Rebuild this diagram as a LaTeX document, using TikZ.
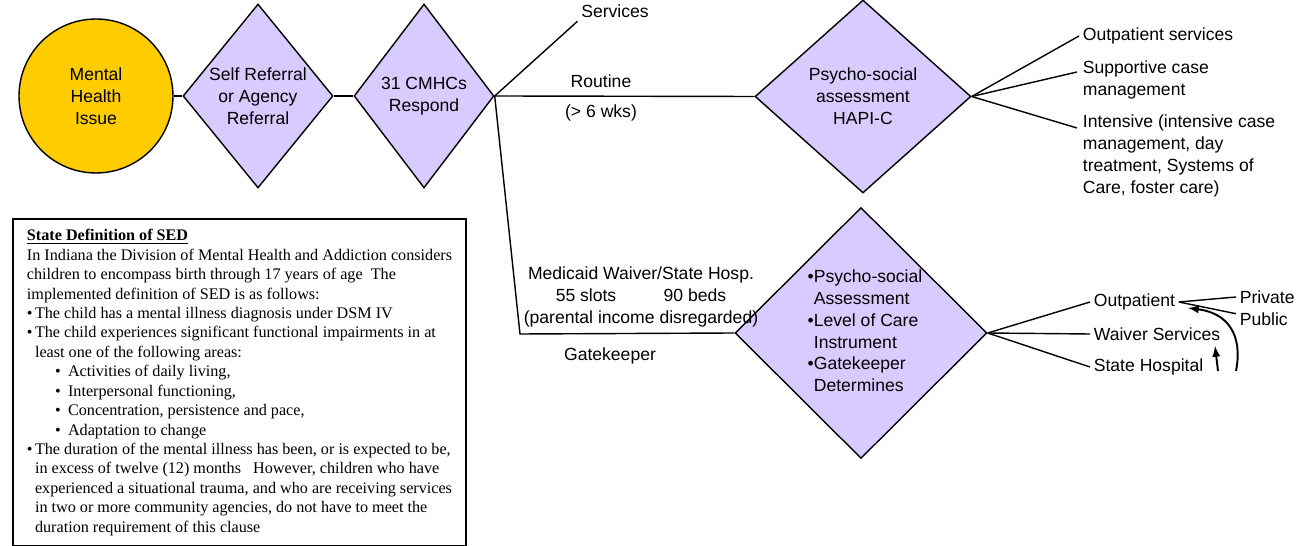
\documentclass[tikz,border=0pt]{standalone}
\usepackage{fontspec}
\setmainfont{Liberation Sans}
\newfontfamily\boxfont{Liberation Serif}
\usetikzlibrary{shapes.geometric}
\definecolor{issuegold}{RGB}{255,204,0}
\definecolor{lilac}{RGB}{215,203,255}
\newcommand{\sansten}{\fontsize{10}{12.4}\selectfont}
\newcommand{\boxten}{\boxfont\fontsize{9.2}{11.05}\selectfont}
\tikzset{
  issue/.style={circle, draw, fill=issuegold, line width=0.8pt, minimum size=3.08cm, inner sep=0pt, align=center, font=\sansten},
  decide/.style={diamond, draw, fill=lilac, line width=0.8pt, inner sep=0pt},
  txt/.style={font=\sansten, inner sep=2pt, align=center},
  conn/.style={line width=0.8pt}
}

\begin{document}
\begin{tikzpicture}[x=0.02cm, y=-0.02cm]
    \useasboundingbox (0,0) rectangle (1312,546);

    \node[issue] (mhi) at (96,96) {Mental\\Health\\Issue};

    \node[decide, minimum width=3cm, minimum height=3.68cm] (self) at (258,96) {};
    \node[txt] (selftxt) at (self) {Self Referral\\or Agency\\Referral};

    \node[decide, minimum width=2.8cm, minimum height=3.68cm] (cmhc) at (424,96) {};
    \node[txt] (cmhctxt) at (cmhc) {31 CMHCs\\Respond};

    \node[decide, minimum width=4.32cm, minimum height=3.86cm] (psy) at (863,96.5) {};
    \node[txt] (psytxt) at (psy) {Psycho-social\\assessment\\HAPI-C};

    \node[decide, minimum width=5.04cm, minimum height=5.02cm] (gate) at (861,333) {};
    \node[txt, align=left] (gatetxt) at (865,331) {•Psycho-social\\\hspace*{3.5pt}Assessment\\•Level of Care\\\hspace*{3.5pt}Instrument\\•Gatekeeper\\\hspace*{3.5pt}Determines};

    \draw[conn] (mhi.east) -- (self.west);
    \draw[conn] (self.east) -- (cmhc.west);

    % branches out of the CMHCs
    \node[txt] (svc) at (615,11) {Services};
    \draw[conn] (cmhc.east) -- (svc.south west);
    \draw[conn] (cmhc.east) -- (psy.west);
    \node[txt] (routine) at (601,81) {Routine};
    \node[txt] (weeks) at (601,113) {(> 6 wks)};
    \coordinate (bend) at (520,334);
    \draw[conn] (cmhc.east) -- (bend) -- (gate.west);
    \node[txt] (waiver) at (641,297) {Medicaid Waiver/State Hosp.\\55 slots\hspace{27pt}90 beds\\(parental income disregarded)};
    \node[txt] (gk) at (610,356) {Gatekeeper};

    % routine outcomes
    \node[txt, anchor=west] (opsvc) at (1079,36) {Outpatient services};
    \node[txt, anchor=west, align=left] (supp) at (1079,80) {Supportive case\\management};
    \node[txt, anchor=west, align=left] (inten) at (1079,156) {Intensive (intensive case\\management, day\\treatment, Systems of\\Care, foster care)};
    \coordinate (suppend) at (1077,72);
    \coordinate (intenend) at (1077,128);
    \draw[conn] (psy.east) -- (opsvc.west);
    \draw[conn] (psy.east) -- (suppend);
    \draw[conn] (psy.east) -- (intenend);

    % gatekeeper outcomes
    \node[txt, anchor=west] (outp) at (1090,302) {Outpatient};
    \node[txt, anchor=west] (wsvc) at (1090,334) {Waiver Services};
    \node[txt, anchor=west] (hosp) at (1090,367) {State Hospital};
    \node[txt, anchor=west] (priv) at (1236,297) {Private};
    \node[txt, anchor=west] (pub) at (1236,319) {Public};
    \draw[conn] (gate.east) -- (outp.west);
    \draw[conn] (gate.east) -- (wsvc.west);
    \draw[conn] (gate.east) -- (hosp.west);
    \draw[conn] (outp.east) -- (priv.west);
    \draw[conn] (outp.east) -- ([yshift=3pt]pub.west);

    \coordinate (stepup) at (1218,371);
    \coordinate (stepupend) at (1215,346);
    \coordinate (backup) at (1236,371);
    \coordinate (backupend) at (1188,308);
    \draw[conn, line width=1.1pt, -latex] (stepup) -- (stepupend);
    \draw[conn, line width=1.1pt, -latex] (backup) .. controls (1243,335) and (1228,313) .. (backupend);

    % definition box
    \node[draw, line width=1.2pt, anchor=north west, minimum width=9.06cm, minimum height=6.54cm, inner xsep=0.27cm, align=left, font=\boxten] (sed) at (12,218) {\textbf{\underline{State Definition of SED}}\\
In Indiana the Division of Mental Health and Addiction considers\\
children to encompass birth through 17 years of age\ \ The\\
implemented definition of SED is as follows:\\
\makebox[4.6pt][l]{•}The child has a mental illness diagnosis under DSM IV\\
\makebox[4.6pt][l]{•}The child experiences significant functional impairments in at\\
\hspace*{4.6pt}least one of the following areas:\\
\hspace*{16pt}\makebox[7.4pt][l]{•}Activities of daily living,\\
\hspace*{16pt}\makebox[7.4pt][l]{•}Interpersonal functioning,\\
\hspace*{16pt}\makebox[7.4pt][l]{•}Concentration, persistence and pace,\\
\hspace*{16pt}\makebox[7.4pt][l]{•}Adaptation to change\\
\makebox[4.6pt][l]{•}The duration of the mental illness has been, or is expected to be,\\
\hspace*{4.6pt}in excess of twelve (12) months\ \ \ However, children who have\\
\hspace*{4.6pt}experienced a situational trauma, and who are receiving services\\
\hspace*{4.6pt}in two or more community agencies, do not have to meet the\\
\hspace*{4.6pt}duration requirement of this clause};
\end{tikzpicture}
\end{document}
